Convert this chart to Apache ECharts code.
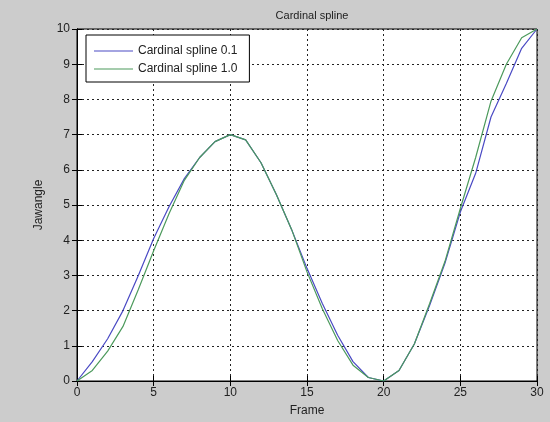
<!DOCTYPE html>
<html>
<head>
<meta charset="utf-8">
<script src="https://cdn.jsdelivr.net/npm/echarts@6/dist/echarts.min.js"></script>
<style>
  html, body { margin: 0; padding: 0; background: #cccccc; }
  #chart { width: 550px; height: 422px; }
</style>
</head>
<body>
<div id="chart"></div>
<script>
// frames 0..30
const frames = [0, 1, 2, 3, 4, 5, 6, 7, 8, 9, 10, 11, 12, 13, 14, 15, 16, 17, 18, 19, 20,
  21, 22, 23, 24, 25, 26, 27, 28, 29, 30];
const spline01 = [0, 0.55, 1.2, 2.0, 3.0, 4.05, 4.95, 5.75, 6.35, 6.8, 7,
  6.85, 6.2, 5.3, 4.3, 3.2, 2.2, 1.3, 0.55, 0.1, 0,
  0.3, 1.05, 2.15, 3.35, 4.8, 5.9, 7.5, 8.45, 9.45, 10];
const spline10 = [0, 0.3, 0.85, 1.55, 2.6, 3.7, 4.75, 5.7, 6.35, 6.8, 7,
  6.85, 6.2, 5.3, 4.3, 3.1, 2.05, 1.15, 0.45, 0.1, 0,
  0.3, 1.05, 2.2, 3.4, 4.9, 6.35, 7.95, 9.0, 9.75, 10];
const seriesNames = ['Cardinal spline 0.1', 'Cardinal spline 1.0'];
const xTicks = [0, 5, 10, 15, 20, 25, 30];
const yTicks = [0, 1, 2, 3, 4, 5, 6, 7, 8, 9, 10];

const chart = echarts.init(document.getElementById('chart'));
const font = 'Liberation Sans, Arial, sans-serif';

const pairs = (vals) => frames.map((f, i) => [f, vals[i]]);

const gridLine = { show: true, lineStyle: { color: '#222', type: [2, 3], width: 1 } };

const option = {
  backgroundColor: '#cccccc',
  animation: false,
  title: {
    text: 'Cardinal spline',
    left: 307,
    textAlign: 'center',
    top: 5,
    textStyle: { fontFamily: font, fontSize: 11, fontWeight: 'normal', color: '#222' }
  },
  legend: {
    orient: 'vertical',
    left: 86,
    top: 35,
    padding: [9, 12, 6, 8],
    icon: 'rect',
    itemWidth: 39,
    itemHeight: 1,
    itemGap: 4,
    backgroundColor: '#fff',
    borderColor: '#000',
    borderWidth: 1,
    textStyle: { fontFamily: font, fontSize: 12, color: '#222', lineHeight: 14 },
    data: seriesNames
  },
  grid: {
    left: 77, right: 13, top: 29, bottom: 38,
    show: true,
    backgroundColor: '#fff',
    borderColor: '#000',
    borderWidth: 1
  },
  xAxis: [{
    type: 'value',
    min: 0, max: 30, interval: 5,
    name: 'Frame',
    nameLocation: 'middle',
    nameGap: 24,
    nameTextStyle: { fontFamily: font, fontSize: 12, color: '#222' },
    axisLine: { lineStyle: { color: '#000' } },
    axisTick: { inside: true, length: 5, lineStyle: { color: '#000' } },
    axisLabel: {
      fontFamily: font, fontSize: 12, color: '#222', margin: 6,
      formatter: (v) => xTicks.includes(v) ? String(v) : ''
    },
    splitLine: gridLine
  }, {
    type: 'value',
    position: 'top',
    min: 0, max: 30, interval: 5,
    axisLine: { lineStyle: { color: '#000' } },
    axisTick: { inside: true, length: 5, lineStyle: { color: '#000' } },
    axisLabel: { show: false },
    splitLine: { show: false }
  }],
  yAxis: [{
    type: 'value',
    min: 0, max: 10, interval: 1,
    name: 'Jawangle',
    nameLocation: 'middle',
    nameGap: 32,
    nameTextStyle: { fontFamily: font, fontSize: 12, color: '#222' },
    axisLine: { show: true, lineStyle: { color: '#000' } },
    axisTick: { show: true, inside: true, length: 5, lineStyle: { color: '#000' } },
    axisLabel: {
      fontFamily: font, fontSize: 12, color: '#222', margin: 7,
      formatter: (v) => yTicks.includes(v) ? String(v) : ''
    },
    splitLine: gridLine
  }, {
    type: 'value',
    position: 'right',
    min: 0, max: 10, interval: 1,
    axisLine: { show: true, lineStyle: { color: '#000' } },
    axisTick: { show: true, inside: true, length: 5, lineStyle: { color: '#000' } },
    axisLabel: { show: false },
    splitLine: { show: false }
  }],
  series: [{
    name: seriesNames[0],
    type: 'line',
    data: pairs(spline01),
    symbol: 'none',
    lineStyle: { color: '#4a4ac4', width: 1.2 },
    itemStyle: { color: '#4a4ac4' }
  }, {
    name: seriesNames[1],
    type: 'line',
    data: pairs(spline10),
    symbol: 'none',
    lineStyle: { color: '#4c9a5c', width: 1.2 },
    itemStyle: { color: '#4c9a5c' }
  }]
};

chart.setOption(option);
</script>
</body>
</html>
